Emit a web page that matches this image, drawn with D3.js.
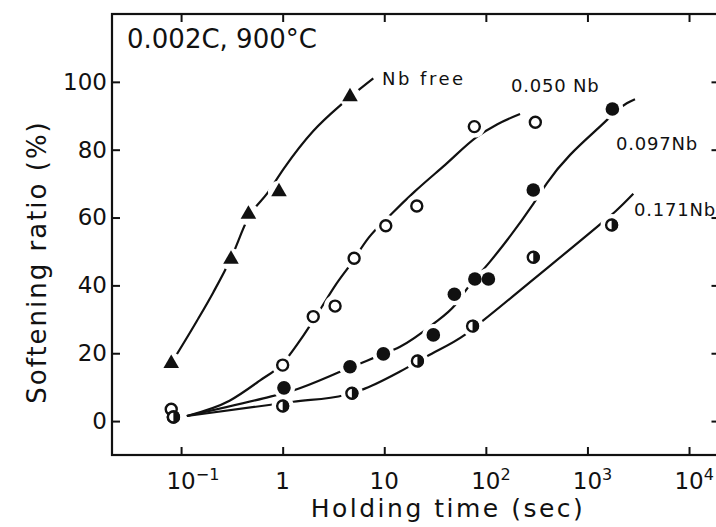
<!DOCTYPE html>
<html><head><meta charset="utf-8">
<script src="https://cdn.jsdelivr.net/npm/d3@7"></script>
<style>body{margin:0;background:#fff}svg{display:block}</style>
</head><body><svg id="c" width="716" height="527"></svg>
<script>
// ---------- text ----------
const headerText = "0.002C, 900°C";
const xTitle = "Holding time (sec)";
const yTitle = "Softening ratio (%)";
const xTickValues = [0.1, 1, 10, 100, 1000, 10000];
const xTickBase = ["10", "1", "10", "10", "10", "10"];
const xTickExp = ["−1", "", "", "2", "3", "4"];
const yTickValues = [0, 20, 40, 60, 80, 100];
const seriesNames = ["Nb free", "0.050 Nb", "0.097Nb", "0.171Nb"];

// ---------- measured points (time in sec, softening ratio in %) ----------
const nbFreeTime  = [0.08, 0.31, 0.46, 0.92, 4.6];
const nbFreeRatio = [17, 47.7, 61, 67.6, 95.6];

const nb050Time  = [0.08, 1.0, 2.0, 3.28, 5.05, 10.35, 20.9, 77, 307];
const nb050Ratio = [3.5, 16.5, 30.8, 33.9, 48.0, 57.6, 63.4, 86.8, 88.1];

const nb097Time  = [0.084, 1.03, 4.6, 9.8, 30.4, 49, 78, 106, 293, 1760];
const nb097Ratio = [1.2, 9.8, 16.0, 19.8, 25.4, 37.4, 41.9, 41.9, 68.1, 92];

const nb171Time  = [0.084, 1.0, 4.8, 21.2, 74, 293, 1730];
const nb171Ratio = [1.2, 4.45, 8.2, 17.7, 28.0, 48.3, 57.8];

// ---------- hand-drawn fit curves ----------
const nbFreeCurveTime  = [0.08, 0.143, 0.208, 0.31, 0.46, 0.72, 1.03, 2.0, 3.67, 4.6, 7.8];
const nbFreeCurveRatio = [17, 29.5, 38, 48, 60, 67.5, 74.5, 85.5, 93, 95.5, 101];

const nb050CurveTime  = [0.114, 0.3, 0.6, 1.0, 1.5, 2.33, 3.3, 4.6, 7, 11.9, 20, 40, 81, 130, 217];
const nb050CurveRatio = [1.5, 6, 12, 17, 24, 32.8, 40, 46, 54, 61.2, 67.7, 75.6, 83.7, 87.5, 90.5];

const nb097CurveTime  = [0.114, 0.645, 1.27, 4.1, 8.4, 14.3, 30, 49.8, 67, 110, 293, 398, 1384, 2440, 2940];
const nb097CurveRatio = [1.5, 6.7, 9.0, 15.1, 19, 21.9, 28.5, 34.2, 39.5, 47, 64, 70.1, 87.3, 93.7, 94.9];

const nb171CurveTime  = [0.114, 1.27, 4.1, 6.0, 14.3, 26, 62, 91, 300, 1435, 1870, 2830];
const nb171CurveRatio = [1.5, 5.7, 7.7, 9.2, 14.6, 19.0, 25.4, 29.3, 42, 58.8, 61.7, 67];

// ---------- layout ----------
const svg = d3.select("#c");
const W = 716, H = 527;
const x = d3.scaleLog().domain([Math.pow(10, -1.68), Math.pow(10, 4.3)]).range([112, 719.5]);
const y = d3.scaleLinear().domain([-10, 120]).range([455, 14]);
const FONT = "'DejaVu Sans', sans-serif";
const INK = "#111";

svg.append("rect").attr("width", W).attr("height", H).attr("fill", "#fff");

// frame
const [x0, x1] = x.range();
const [y0, y1] = y.range();
svg.append("rect")
  .attr("x", x0).attr("y", y1).attr("width", x1 - x0).attr("height", y0 - y1)
  .attr("fill", "none").attr("stroke", INK).attr("stroke-width", 2.2);

// axes with inward ticks
function styleAxis(g) {
  g.select(".domain").remove();
  g.selectAll(".tick line").attr("stroke", INK).attr("stroke-width", 2);
}
svg.append("g").attr("transform", `translate(0,${y0})`)
  .call(d3.axisBottom(x).tickValues(xTickValues).tickSize(-8).tickFormat(""))
  .call(styleAxis);
svg.append("g").attr("transform", `translate(0,${y1})`)
  .call(d3.axisTop(x).tickValues(xTickValues).tickSize(-8).tickFormat(""))
  .call(styleAxis);
svg.append("g").attr("transform", `translate(${x0},0)`)
  .call(d3.axisLeft(y).tickValues(yTickValues).tickSize(-8).tickPadding(5))
  .call(styleAxis)
  .call(g => g.selectAll(".tick text").attr("font-family", FONT).attr("font-size", 23).attr("fill", INK));
svg.append("g").attr("transform", `translate(${x1},0)`)
  .call(d3.axisRight(y).tickValues(yTickValues).tickSize(-8).tickFormat(""))
  .call(styleAxis);

// x tick labels
xTickValues.forEach((v, i) => {
  const t = svg.append("text")
    .attr("font-family", FONT).attr("font-size", 23).attr("fill", INK)
    .attr("y", 489);
  if (xTickExp[i]) {
    t.attr("x", x(v) - 14.6).attr("text-anchor", "start");
    t.append("tspan").text(xTickBase[i]);
    t.append("tspan").attr("dy", -9).attr("font-size", 16).text(xTickExp[i]);
  } else {
    t.attr("x", x(v)).attr("text-anchor", "middle").text(xTickBase[i]);
  }
});

// axis titles
svg.append("text").attr("x", 448).attr("y", 517).attr("text-anchor", "middle")
  .attr("font-family", FONT).attr("font-size", 25).attr("letter-spacing", 2.5).attr("fill", INK)
  .text(xTitle);
svg.append("text").attr("transform", "translate(46,262) rotate(-90)").attr("text-anchor", "middle")
  .attr("font-family", FONT).attr("font-size", 26).attr("letter-spacing", 2).attr("fill", INK)
  .text(yTitle);

// header
svg.append("text").attr("x", 127).attr("y", 48)
  .attr("font-family", FONT).attr("font-size", 26).attr("fill", INK).text(headerText);

// curves
const line = d3.line().x(d => x(d[0])).y(d => y(d[1])).curve(d3.curveMonotoneX);
const curves = [
  d3.zip(nbFreeCurveTime, nbFreeCurveRatio),
  d3.zip(nb050CurveTime, nb050CurveRatio),
  d3.zip(nb097CurveTime, nb097CurveRatio),
  d3.zip(nb171CurveTime, nb171CurveRatio)
];
svg.append("g").selectAll("path").data(curves).join("path")
  .attr("d", line).attr("fill", "none").attr("stroke", INK).attr("stroke-width", 2.2);

// markers
const series = [
  {kind: "tri",  pts: d3.zip(nbFreeTime, nbFreeRatio)},
  {kind: "open", pts: d3.zip(nb050Time, nb050Ratio)},
  {kind: "fill", pts: d3.zip(nb097Time, nb097Ratio)},
  {kind: "half", pts: d3.zip(nb171Time, nb171Ratio)}
];
const R = 6.5;
// white halos (gaps in the lines around markers)
const halo = svg.append("g");
series.forEach(s => {
  halo.selectAll(null).data(s.pts).join("circle")
    .attr("cx", d => x(d[0])).attr("cy", d => y(d[1])).attr("r", R + 4.5).attr("fill", "#fff");
});
const mk = svg.append("g");
series.forEach(s => {
  const g = mk.append("g");
  const sel = g.selectAll("g").data(s.pts).join("g")
    .attr("transform", d => `translate(${x(d[0])},${y(d[1])})`);
  if (s.kind === "tri") {
    sel.append("path").attr("d", d3.symbol(d3.symbolTriangle, 105)).attr("fill", INK);
  } else if (s.kind === "open") {
    sel.append("circle").attr("r", R - 1).attr("fill", "#fff").attr("stroke", INK).attr("stroke-width", 2.4);
  } else if (s.kind === "fill") {
    sel.append("circle").attr("r", R + 0.3).attr("fill", INK);
  } else {
    sel.append("circle").attr("r", R - 1).attr("fill", "#fff").attr("stroke", INK).attr("stroke-width", 2.4);
    sel.append("path").attr("d", `M0,${-R} A${R},${R} 0 0 1 0,${R} Z`).attr("fill", INK);
  }
});

// series labels
const labelPos = [[382, 85], [511, 92], [616, 150], [634, 216]];
const labelSpacing = [2.5, 0.8, 0.8, 0.8];
seriesNames.forEach((n, i) => {
  svg.append("text").attr("x", labelPos[i][0]).attr("y", labelPos[i][1])
    .attr("font-family", FONT).attr("font-size", 18).attr("letter-spacing", labelSpacing[i]).attr("fill", INK)
    .text(n);
});
</script>
</body></html>
